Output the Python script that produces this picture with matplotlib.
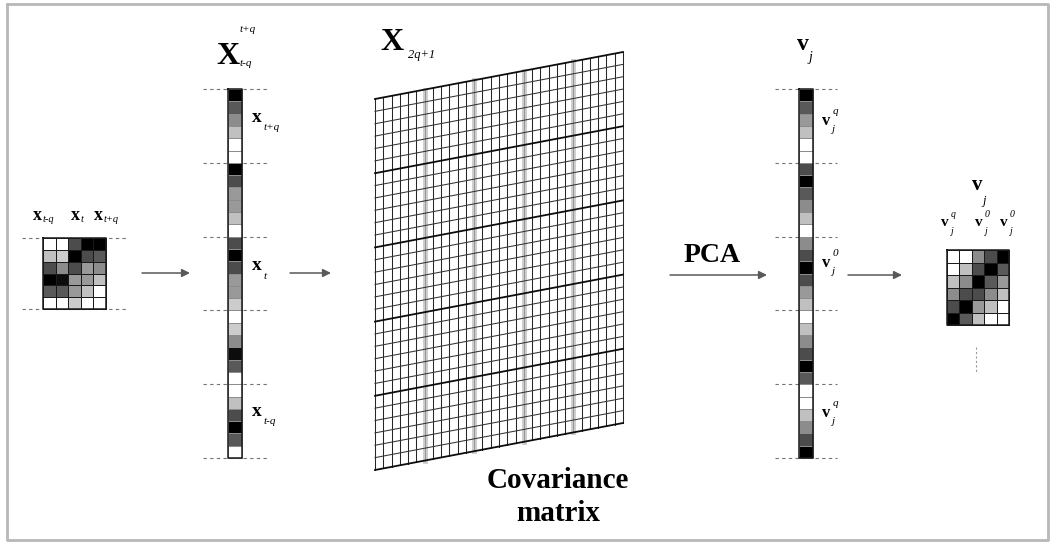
import numpy as np
import matplotlib
matplotlib.use('Agg')
import matplotlib.pyplot as plt

plt.rcParams['font.family'] = 'Liberation Serif'

# gray level of each pixel in the 6x5 window (0 = black, 1 = white), rows top to bottom
WINDOW_IN = [
    [1.00, 1.00, 0.30, 0.00, 0.00],
    [0.75, 0.80, 0.00, 0.30, 0.35],
    [0.30, 0.55, 0.30, 0.60, 0.55],
    [0.00, 0.05, 0.60, 0.60, 0.75],
    [0.35, 0.35, 0.60, 0.75, 1.00],
    [1.00, 1.00, 0.80, 1.00, 1.00],
]

# eigenvector reshaped back to a window
WINDOW_OUT = [
    [1.00, 1.00, 0.55, 0.30, 0.00],
    [1.00, 0.75, 0.30, 0.00, 0.35],
    [0.75, 0.55, 0.00, 0.35, 0.60],
    [0.55, 0.30, 0.30, 0.55, 0.75],
    [0.30, 0.00, 0.60, 0.75, 1.00],
    [0.00, 0.35, 0.75, 1.00, 1.00],
]

N_COV = 30     # size of the covariance matrix
BLOCK = 6      # one window column
PCA_LABEL = 'PCA'
COV_LABEL = 'Covariance\nmatrix'


def stack_columns(win):
    """Columns stacked right to left into one long vector."""
    win = np.asarray(win)
    return win[:, ::-1].T.ravel().reshape(-1, 1)


def draw_cells(ax, data, x0, y0, w, h, edge='0.1', lw=0.9):
    data = np.asarray(data)
    nr, nc = data.shape
    xs = np.linspace(x0, x0 + w, nc + 1)
    ys = np.linspace(y0, y0 + h, nr + 1)
    ax.pcolormesh(xs, ys, data, cmap='gray', vmin=0, vmax=1,
                  edgecolors=edge, linewidth=lw, zorder=3)
    ax.plot([x0, x0 + w, x0 + w, x0, x0], [y0, y0, y0 + h, y0 + h, y0],
            color='0.1', lw=1.1, zorder=4)


def dashes(ax, x0, x1, ys):
    for y in ys:
        ax.plot([x0, x1], [y, y], color='0.45', lw=0.8, ls=(0, (3, 3)), zorder=1)


def arrow(ax, x0, x1, y):
    ax.annotate('', xy=(x1, y), xytext=(x0, y),
                arrowprops=dict(arrowstyle='-|>', color='0.35', lw=1.1,
                                mutation_scale=12, shrinkA=0, shrinkB=0))


def vlabel(ax, x, y, base, sub=None, sup=None, size=12, ssize=8):
    ax.text(x, y, base, fontsize=size, fontweight='bold', ha='left', va='center')
    if sup is not None:
        ax.text(x + size * 0.85, y - size * 0.8, sup, fontsize=ssize,
                style='italic', ha='left', va='center')
    if sub is not None:
        ax.text(x + size * 0.8, y + size * 0.75, sub, fontsize=ssize,
                style='italic', ha='left', va='center')


fig = plt.figure(figsize=(10.54, 5.45), dpi=100)
ax = fig.add_axes([0, 0, 1, 1])
ax.set_xlim(0, 1054)
ax.set_ylim(545, 0)
ax.axis('off')

# frame
ax.plot([7, 1048, 1048, 7, 7], [4, 4, 540, 540, 4], color='0.72', lw=2)

# input window
dashes(ax, 22, 127, [238, 309])
draw_cells(ax, WINDOW_IN, 43, 238, 63, 71, lw=0.7)
ax.text(33, 215, 'x', fontsize=13, fontweight='bold', va='center')
ax.text(43, 220, 't-q', fontsize=7.5, style='italic', va='center')
ax.text(71, 215, 'x', fontsize=13, fontweight='bold', va='center')
ax.text(81, 220, 't', fontsize=7.5, style='italic', va='center')
ax.text(94, 215, 'x', fontsize=13, fontweight='bold', va='center')
ax.text(104, 220, 't+q', fontsize=7.5, style='italic', va='center')

arrow(ax, 142, 190, 273)

# stacked vector
vec_in = stack_columns(WINDOW_IN)
seg = 369 / 5
dashes(ax, 203, 267, [89 + k * seg for k in range(6)])
draw_cells(ax, vec_in, 228, 89, 14, 369, edge='0.55', lw=0.4)
ax.text(216, 57, 'X', fontsize=23, fontweight='bold', va='center')
ax.text(240, 30, 't+q', fontsize=8, style='italic', va='center')
ax.text(240, 64, 't-q', fontsize=8, style='italic', va='center')
vlabel(ax, 252, 117, 'x', sub='t+q', size=14, ssize=8)
vlabel(ax, 252, 266, 'x', sub='t', size=14, ssize=8)
vlabel(ax, 252, 411, 'x', sub='t-q', size=14, ssize=8)

arrow(ax, 290, 331, 273)

# covariance matrix as a sheared grid
gx0, gx1, gy0, gy1, gh = 375, 623, 99, 52, 371
slope = (gy1 - gy0) / (gx1 - gx0)
for i in range(N_COV + 1):
    x = gx0 + i * (gx1 - gx0) / N_COV
    top = gy0 + (x - gx0) * slope
    if i % BLOCK == 0 and 0 < i < N_COV:
        ax.plot([x, x], [top, top + gh], color='0.8', lw=3.5, zorder=2)
        ax.plot([x, x], [top, top + gh], color='0.5', lw=0.5, zorder=2)
    else:
        ax.plot([x, x], [top, top + gh], color='0.15', lw=0.75, zorder=2)
for j in range(N_COV + 1):
    dy = j * gh / N_COV
    heavy = j % BLOCK == 0
    ax.plot([gx0, gx1], [gy0 + dy, gy1 + dy], color='0.05' if heavy else '0.2',
            lw=1.3 if heavy else 0.75, zorder=2)
ax.text(380, 42, 'X', fontsize=23, fontweight='bold', va='center')
ax.text(408, 55, '2q+1', fontsize=9, style='italic', va='center')
ax.text(558, 497, COV_LABEL, fontsize=21, fontweight='bold', ha='center',
        va='center', linespacing=1.3)

# PCA
ax.text(712, 255, PCA_LABEL, fontsize=20, fontweight='bold', ha='center', va='center')
arrow(ax, 670, 767, 275)

# eigenvector
vec_out = stack_columns(WINDOW_OUT)
dashes(ax, 775, 837, [89 + k * seg for k in range(6)])
draw_cells(ax, vec_out, 799, 89, 14, 369, edge='0.55', lw=0.4)
ax.text(797, 44, 'v', fontsize=17, fontweight='bold', va='center')
ax.text(808, 58, 'j', fontsize=10, style='italic', va='center')
for y, s in [(121, 'q'), (263, '0'), (413, 'q')]:
    vlabel(ax, 822, y, 'v', sub='j', sup=s, size=12, ssize=8)

arrow(ax, 848, 902, 275)

# eigenvector back as a window
draw_cells(ax, WINDOW_OUT, 947, 250, 62, 75, lw=0.7)
ax.plot([976, 976], [347, 373], color='0.6', lw=0.8, ls=(0, (2, 2)))
ax.text(972, 185, 'v', fontsize=15, fontweight='bold', va='center')
ax.text(982, 201, 'j', fontsize=9, style='italic', va='center')
for x, s in [(941, 'q'), (975, '0'), (1000, '0')]:
    vlabel(ax, x, 223, 'v', sub='j', sup=s, size=11, ssize=7)

fig.savefig('out.png', dpi=100)
